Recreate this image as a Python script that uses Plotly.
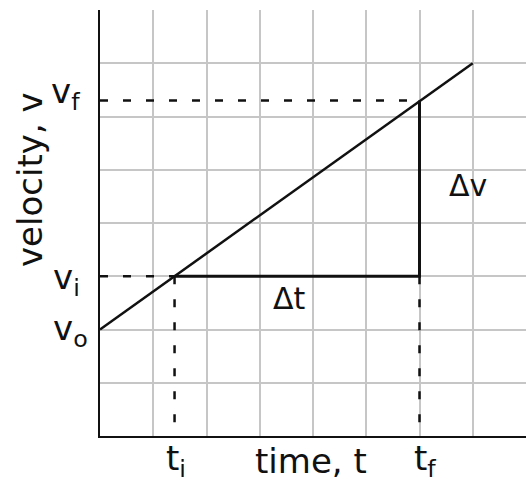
import plotly.graph_objects as go

# Velocity-time line: v rises linearly from v_o at t = 0
line_t = [0.0, 7.0]
line_v = [2.0, 7.0]

# Marked instants and velocities (grid units)
t_i = 1.4
t_f = 6.0
v_o = 2.0
v_i = 3.0
v_f = 6.3

FONT = "DejaVu Sans"
INK = "#111111"

fig = go.Figure()

# main straight line
fig.add_trace(go.Scatter(x=line_t, y=line_v, mode="lines",
                         line=dict(color=INK, width=2.5), hoverinfo="skip"))

dash = "8px,15px"
# dashed guides
fig.add_trace(go.Scatter(x=[0, t_i], y=[v_i, v_i], mode="lines",
                         line=dict(color=INK, width=2.5, dash=dash), hoverinfo="skip"))
fig.add_trace(go.Scatter(x=[0, t_f], y=[v_f, v_f], mode="lines",
                         line=dict(color=INK, width=2.5, dash=dash), hoverinfo="skip"))
fig.add_trace(go.Scatter(x=[t_i, t_i], y=[v_i, 0], mode="lines",
                         line=dict(color=INK, width=2.5, dash=dash), hoverinfo="skip"))
fig.add_trace(go.Scatter(x=[t_f, t_f], y=[v_i, 0], mode="lines",
                         line=dict(color=INK, width=2.5, dash=dash), hoverinfo="skip"))

# solid triangle legs: delta t and delta v
fig.add_trace(go.Scatter(x=[t_i, t_f, t_f], y=[v_i, v_i, v_f], mode="lines",
                         line=dict(color=INK, width=3), hoverinfo="skip"))

axis_common = dict(range=[0, 8], tick0=0, dtick=1, showgrid=True,
                   gridcolor="#c6c6c6", gridwidth=2, zeroline=False,
                   showline=True, linecolor=INK, linewidth=2,
                   showticklabels=False, ticks="", fixedrange=True)

fig.update_layout(
    width=526, height=484,
    margin=dict(l=100, r=0, t=10, b=48, pad=0),
    plot_bgcolor="white", paper_bgcolor="white",
    showlegend=False,
    xaxis=axis_common, yaxis=axis_common,
    font=dict(family=FONT, color=INK),
)

big = dict(family=FONT, size=34, color=INK)
mid = dict(family=FONT, size=30, color=INK)

annots = [
    dict(text="v<sub>f</sub>", x=0, y=v_f, xanchor="right", yanchor="middle",
         xshift=-18, yshift=7, font=big),
    dict(text="v<sub>i</sub>", x=0, y=v_i, xanchor="right", yanchor="middle",
         xshift=-18, yshift=-3, font=big),
    dict(text="v<sub>o</sub>", x=0, y=v_o, xanchor="right", yanchor="middle",
         xshift=-10, yshift=-1, font=big),
    dict(text="t<sub>i</sub>", x=t_i, y=0, xanchor="center", yanchor="top",
         xshift=1, yshift=0, font=big),
    dict(text="t<sub>f</sub>", x=t_f, y=0, xanchor="center", yanchor="top",
         xshift=5, yshift=0, font=big),
    dict(text="\u0394v", x=6.91, y=4.71, xanchor="center", yanchor="middle", font=mid),
    dict(text="\u0394t", x=3.55, y=2.59, xanchor="center", yanchor="middle", font=mid),
]
for a in annots:
    fig.add_annotation(xref="x", yref="y", showarrow=False, **a)

# axis titles
fig.add_annotation(text="velocity, v", xref="paper", yref="paper",
                   x=(30 - 100) / 426, y=(436 - 180) / 426,
                   xanchor="center", yanchor="middle", textangle=-90,
                   showarrow=False, font=big)
fig.add_annotation(text="time, t", xref="paper", yref="paper",
                   x=(311 - 100) / 426, y=(436 - 483) / 426,
                   xanchor="center", yanchor="bottom",
                   showarrow=False, font=big)

fig.write_html("out.html")
